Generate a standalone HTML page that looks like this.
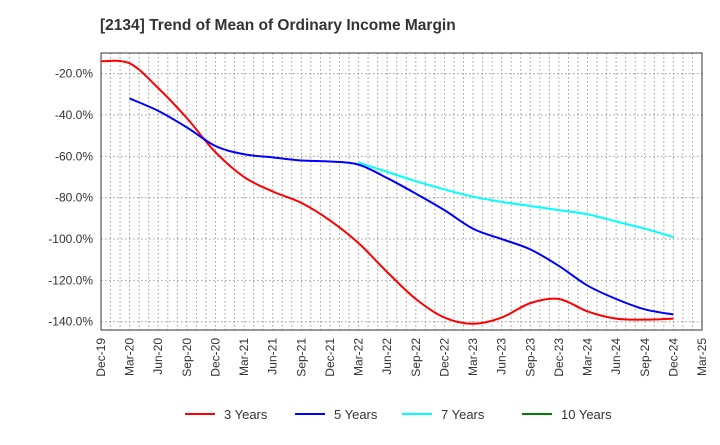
<!DOCTYPE html>
<html><head><meta charset="utf-8"><style>
body{margin:0;background:#fff;font-family:"Liberation Sans",Arial,sans-serif}
svg text{font-family:"Liberation Sans",Arial,sans-serif}
</style></head><body>
<svg id="c" width="720" height="440" xmlns="http://www.w3.org/2000/svg">
<text x="100" y="30" font-size="15.5" font-weight="bold" fill="#333">[2134]  Trend of Mean of Ordinary Income Margin</text>
<g id="grid"></g><g id="axes"></g><g id="series"></g><g id="legend"></g>
</svg>
<script>
const xLabels=["Dec-19","Mar-20","Jun-20","Sep-20","Dec-20","Mar-21","Jun-21","Sep-21","Dec-21","Mar-22","Jun-22","Sep-22","Dec-22","Mar-23","Jun-23","Sep-23","Dec-23","Mar-24","Jun-24","Sep-24","Dec-24","Mar-25"];
const yTicks=[-20,-40,-60,-80,-100,-120,-140];
const s3=[-14,-15,-27,-41.5,-58,-70,-77,-82.5,-91,-102,-116,-129,-138,-141,-138,-131,-129,-135,-138.5,-139,-138.5];
const s5=[null,-32,-38,-46,-55,-59,-60.5,-62,-62.5,-64,-70.5,-78,-86,-95,-100,-105,-113,-122.5,-129,-134,-136.5];
const s7=[null,null,null,null,null,null,null,null,null,-63,-67.5,-72,-76,-79.5,-82,-84,-86,-88,-91.5,-95,-99];
const s10=[];
const seriesNames=["3 Years","5 Years","7 Years","10 Years"];
const L=101,R=702,T=53,B=330,yMax=-10,yMin=-144;
const NS="http://www.w3.org/2000/svg";
const X=i=>L+(R-L)*i/(xLabels.length-1);
const Y=v=>T+(yMax-v)/(yMax-yMin)*(B-T);
function mk(t,a,p){const e=document.createElementNS(NS,t);for(const k in a)e.setAttribute(k,a[k]);p.appendChild(e);return e;}
const grid=document.getElementById('grid'),axes=document.getElementById('axes'),ser=document.getElementById('series'),leg=document.getElementById('legend');
for(let m=1;m<(xLabels.length-1)*3;m++){const x=L+(R-L)*m/((xLabels.length-1)*3);
const g=mk('line',{x1:x,x2:x,y1:T,y2:B,stroke:'#999','stroke-dasharray':'1.5,2.5','stroke-width':1},grid);

}
yTicks.forEach(v=>{const g=mk('line',{x1:L,x2:R,y1:Y(v),y2:Y(v),stroke:'#999','stroke-dasharray':'1.5,2.5'},grid);


const t=mk('text',{x:L-8,y:Y(v)+4,'text-anchor':'end','font-size':12,fill:'#333'},axes);t.textContent=v.toFixed(1)+'%';

});
const fr=mk('rect',{x:L,y:T,width:R-L,height:B-T,fill:'none',stroke:'#333','stroke-width':1},axes);


xLabels.forEach((l,i)=>{const t=mk('text',{transform:`translate(${X(i)+4},${B+8}) rotate(-90)`,'text-anchor':'end','font-size':12,fill:'#333'},axes);t.textContent=l;

});
function path(arr){const p=[];arr.forEach((v,i)=>{if(v!=null)p.push([X(i),Y(v)]);});if(p.length<2)return '';
let d=`M${p[0][0]},${p[0][1]}`;for(let i=0;i<p.length-1;i++){const a=p[Math.max(0,i-1)],b=p[i],c=p[i+1],e=p[Math.min(p.length-1,i+2)];
d+=` C${b[0]+(c[0]-a[0])/6},${b[1]+(c[1]-a[1])/6} ${c[0]-(e[0]-b[0])/6},${c[1]-(e[1]-b[1])/6} ${c[0]},${c[1]}`;}return d;}
const cols=["#ff0000","#0000ff","#00ffff","#008000"];
[s3,s5,s7,s10].forEach((s,k)=>{const d=path(s);if(d){const p=mk('path',{d,fill:'none',stroke:cols[k],'stroke-width':2},ser);

}});
const lx=[185,295,402,522];
seriesNames.forEach((n,k)=>{const g=mk('g',{},leg);


mk('line',{x1:lx[k],x2:lx[k]+30,y1:414,y2:414,stroke:cols[k],'stroke-width':2},g);
const t=mk('text',{x:lx[k]+39,y:419,'font-size':13,fill:'#333'},g);t.textContent=n;});
</script>
</body></html>
